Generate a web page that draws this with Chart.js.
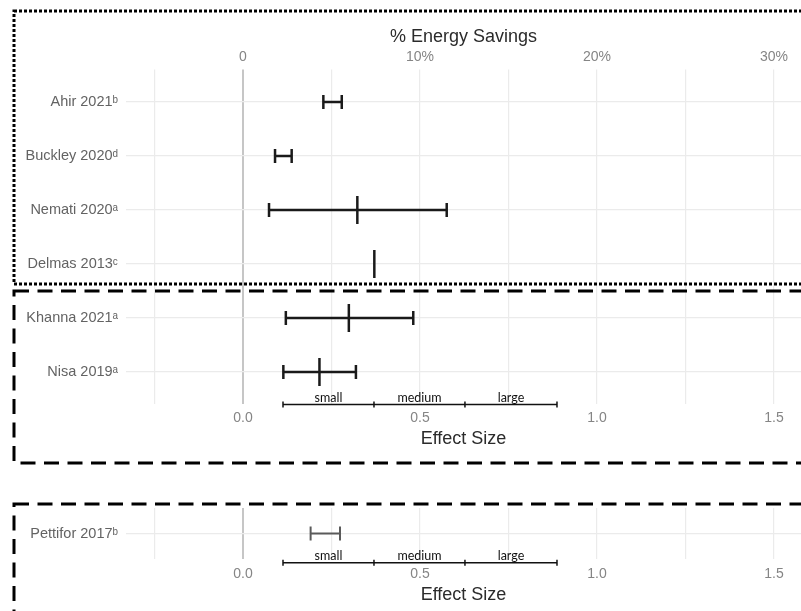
<!DOCTYPE html>
<html>
<head>
<meta charset="utf-8">
<script src="https://cdn.jsdelivr.net/npm/chart.js@4.4.1/dist/chart.umd.min.js"></script>
<style>
	html, body { margin: 0; padding: 0; background: #fff; overflow: hidden; }
	#wrap { position: relative; width: 801px; height: 611px; }
	.panel { position: absolute; left: 0; width: 801px; }
	#top_panel { top: 0; height: 470px; }
	#bottom_panel { top: 470px; height: 141px; }
</style>
</head>
<body>
<div id="wrap">
	<div class="panel" id="top_panel"><canvas id="main_chart"></canvas></div>
	<div class="panel" id="bottom_panel"><canvas id="pettifor_chart"></canvas></div>
</div>
<script>
// Studies reporting % energy savings (read on the top axis).
const savingsStudies = ['Ahir 2021ᵇ', 'Buckley 2020ᵈ', 'Nemati 2020ᵃ', 'Delmas 2013ᶜ'];
const savingsLow = [4.54, 1.81, 1.47, null];
const savingsHigh = [5.58, 2.75, 11.51, null];
const savingsEst = [null, null, 6.46, 7.42];

// Studies reporting an effect size (read on the bottom axis).
const effectStudies = ['Khanna 2021ᵃ', 'Nisa 2019ᵃ'];
const effectLow = [0.121, 0.114];
const effectHigh = [0.481, 0.319];
const effectEst = [0.299, 0.216];

// Separate panel.
const pettiforStudies = ['Pettifor 2017ᵇ'];
const pettiforLow = [0.191];
const pettiforHigh = [0.274];

// Effect size benchmark bar.
const benchmarkCuts = [0.113, 0.370, 0.627, 0.887];
const benchmarkLabels = ['small', 'medium', 'large'];

// Axis ticks.
const effectTicks = [-0.25, 0, 0.25, 0.5, 0.75, 1, 1.25, 1.5];
const effectTickLabels = ['', '0.0', '', '0.5', '', '1.0', '', '1.5'];
const savingsTicks = [0, 10, 20, 30];
const savingsTickLabels = ['0', '10%', '20%', '30%'];

// 10% savings lines up with an effect size of 0.5.
const PCT_PER_EFFECT = 20;
const EFFECT_MIN = -0.3305;
const EFFECT_MAX = 1.5763;

const FONT = '"Liberation Sans", Arial, sans-serif';
const GRID_COLOR = '#ebebeb';
const ZERO_COLOR = '#c6c6c6';
const BAR_COLOR = '#1a1a1a';
const PETTIFOR_COLOR = '#5a5a5a';
const LABEL_COLOR = '#636363';
const TICK_COLOR = '#858585';
const TITLE_COLOR = '#2b2b2b';

function intervalDatasets(lows, highs, ests, rowOffset, axisId, color, width) {
	const sets = [];
	const caps = [];
	const mids = [];
	lows.forEach((lo, i) => {
		const row = i + rowOffset;
		if (lo !== null) {
			sets.push({
				type: 'scatter',
				xAxisID: axisId,
				showLine: true,
				data: [{ x: lo, y: row }, { x: highs[i], y: row }],
				borderColor: color,
				borderWidth: width,
				pointRadius: 0,
			});
			caps.push({ x: lo, y: row }, { x: highs[i], y: row });
		}
		if (ests && ests[i] !== null) {
			mids.push({ x: ests[i], y: row });
		}
	});
	const marker = (data, radius) => ({
		type: 'scatter',
		xAxisID: axisId,
		data: data,
		pointStyle: 'line',
		pointRotation: 90,
		pointRadius: radius,
		pointHoverRadius: radius,
		pointBorderColor: color,
		pointBorderWidth: width,
	});
	sets.push(marker(caps, 7));
	if (mids.length) sets.push(marker(mids, 14));
	return sets;
}

function benchmarkDatasets(yValue) {
	return [{
		type: 'scatter',
		showLine: true,
		clip: false,
		data: benchmarkCuts.map(v => ({ x: v, y: yValue })),
		borderColor: '#111',
		borderWidth: 1.5,
		pointStyle: 'line',
		pointRotation: 90,
		pointRadius: 3,
		pointHoverRadius: 3,
		pointBorderColor: '#111',
		pointBorderWidth: 1.5,
	}];
}

// Frames round the panels and the benchmark words.
function decorPlugin(frames, benchY) {
	return {
		id: 'decor',
		afterDatasetsDraw(chart) {
			const ctx = chart.ctx;
			const xs = chart.scales.x;
			const y = chart.scales.y.getPixelForValue(benchY);
			ctx.save();
			ctx.fillStyle = '#111';
			ctx.font = '12.5px Lato, "Open Sans", sans-serif';
			ctx.textAlign = 'center';
			ctx.textBaseline = 'alphabetic';
			benchmarkLabels.forEach((label, i) => {
				const mid = (benchmarkCuts[i] + benchmarkCuts[i + 1]) / 2;
				ctx.fillText(label, xs.getPixelForValue(mid), y - 2.5);
			});
			ctx.restore();
		},
		afterDraw(chart) {
			const ctx = chart.ctx;
			ctx.save();
			ctx.strokeStyle = '#000';
			frames.forEach(f => {
				ctx.lineWidth = f.width;
				ctx.setLineDash(f.dash);
				ctx.strokeRect(f.x, f.y, f.w, f.h);
			});
			ctx.restore();
		}
	};
}

function effectAxis(height, tickPad, titlePad) {
	return {
		type: 'linear',
		position: 'bottom',
		min: EFFECT_MIN,
		max: EFFECT_MAX,
		afterBuildTicks: s => { s.ticks = effectTicks.map(v => ({ value: v })); },
		afterFit: s => { s.height = height; },
		grid: {
			color: c => (c.tick && c.tick.value === 0 ? ZERO_COLOR : GRID_COLOR),
			lineWidth: c => (c.tick && c.tick.value === 0 ? 2 : 1.2),
			drawTicks: false,
		},
		border: { display: false },
		ticks: {
			autoSkip: false,
			maxRotation: 0,
			padding: tickPad,
			color: TICK_COLOR,
			font: { family: FONT, size: 14 },
			callback: (v, i) => effectTickLabels[i],
		},
		title: {
			display: true,
			text: 'Effect Size',
			color: TITLE_COLOR,
			font: { family: FONT, size: 18 },
			padding: { top: 0, bottom: titlePad },
		}
	};
}

function studyAxis(labels, min, max) {
	return {
		type: 'linear',
		reverse: true,
		min: min,
		max: max,
		afterBuildTicks: s => { s.ticks = labels.map((_, i) => ({ value: i })); },
		afterFit: s => { s.width = 126; },
		grid: { color: GRID_COLOR, lineWidth: 1.2, drawTicks: false },
		border: { display: false },
		ticks: {
			autoSkip: false,
			padding: 8,
			color: LABEL_COLOR,
			font: { family: FONT, size: 14.5 },
			callback: (v, i) => labels[i],
		}
	};
}

const baseOptions = {
	responsive: true,
	maintainAspectRatio: false,
	animation: false,
	events: [],
	plugins: {
		legend: { display: false },
		tooltip: { enabled: false }
	}
};

function initCharts() {
	const rowLabels = savingsStudies.concat(effectStudies);
	const mainBenchY = 5.6;

	new Chart(document.getElementById('main_chart'), {
		type: 'scatter',
		data: {
			datasets: [
				...intervalDatasets(savingsLow, savingsHigh, savingsEst, 0, 'x2', BAR_COLOR, 2.5),
				...intervalDatasets(effectLow, effectHigh, effectEst, savingsStudies.length, 'x', BAR_COLOR, 2.5),
				...benchmarkDatasets(mainBenchY),
			]
		},
		options: {
			...baseOptions,
			layout: { padding: 0, autoPadding: false },
			scales: {
				x: effectAxis(65.6, 5.5, 20),
				x2: {
					type: 'linear',
					position: 'top',
					min: EFFECT_MIN * PCT_PER_EFFECT,
					max: EFFECT_MAX * PCT_PER_EFFECT,
					afterBuildTicks: s => { s.ticks = savingsTicks.map(v => ({ value: v })); },
					afterFit: s => { s.height = 69.6; },
					grid: { display: false, drawTicks: false },
					border: { display: false },
					ticks: {
						autoSkip: false,
						maxRotation: 0,
						padding: 4,
						color: TICK_COLOR,
						font: { family: FONT, size: 14 },
						callback: (v, i) => savingsTickLabels[i],
					},
					title: {
						display: true,
						text: '% Energy Savings',
						color: TITLE_COLOR,
						font: { family: FONT, size: 18 },
						padding: { top: 26, bottom: 0 },
					}
				},
				y: studyAxis(rowLabels, -0.6, rowLabels.length - 0.4),
			}
		},
		plugins: [decorPlugin([
			{ x: 14, y: 11, w: 900, h: 273, width: 3, dash: [3, 2] },
			{ x: 14, y: 291, w: 900, h: 172, width: 3, dash: [15, 8.5] },
		], mainBenchY)]
	});

	const pettiforBenchY = 0.69;
	new Chart(document.getElementById('pettifor_chart'), {
		type: 'scatter',
		data: {
			datasets: [
				...intervalDatasets(pettiforLow, pettiforHigh, null, 0, 'x', PETTIFOR_COLOR, 2),
				...benchmarkDatasets(pettiforBenchY),
			]
		},
		options: {
			...baseOptions,
			layout: { padding: { top: 38, left: 0, right: 0, bottom: 0 }, autoPadding: false },
			scales: {
				x: effectAxis(52, 7, 5),
				y: studyAxis(pettiforStudies, -0.6, 0.6),
			}
		},
		plugins: [decorPlugin([
			{ x: 14, y: 34, w: 900, h: 300, width: 3, dash: [15, 8.5] },
		], pettiforBenchY)]
	});
}

document.addEventListener('DOMContentLoaded', initCharts);
</script>
</body>
</html>
